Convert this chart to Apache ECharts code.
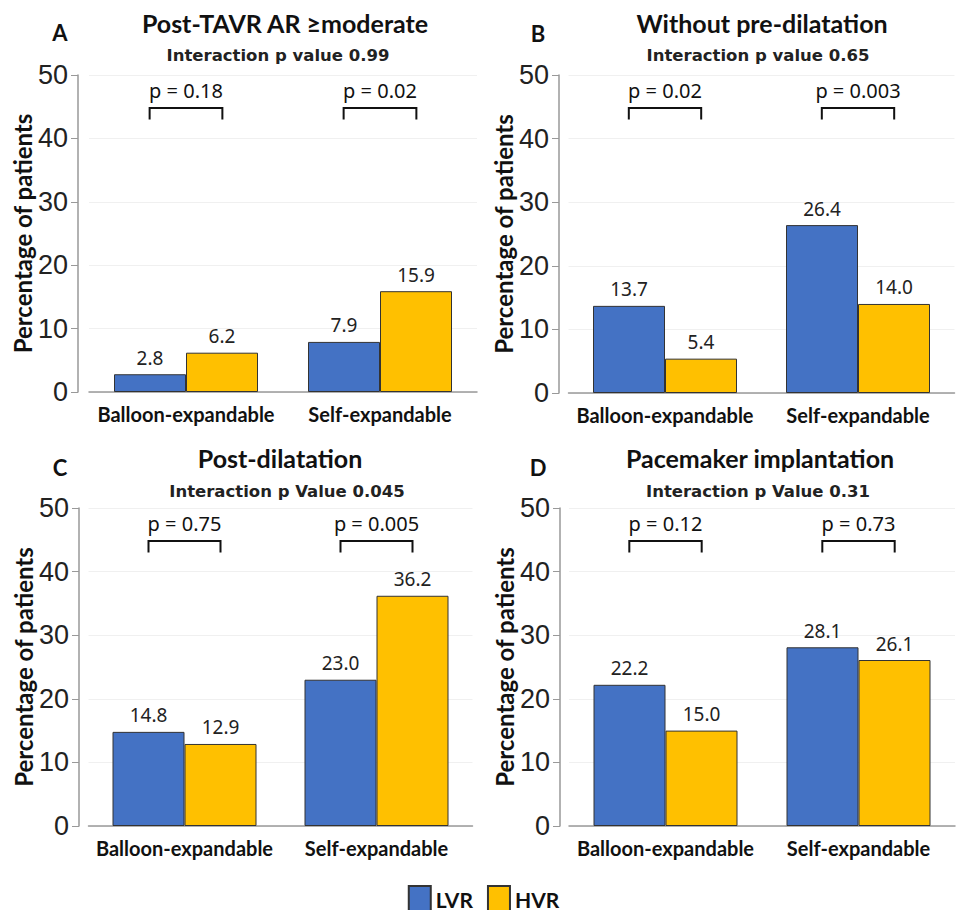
<!DOCTYPE html>
<html>
<head>
<meta charset="utf-8">
<script src="https://cdn.jsdelivr.net/npm/echarts@6.0.0/dist/echarts.min.js"></script>
<style>
  html, body { margin: 0; padding: 0; background: #fff; }
  #main { width: 967px; height: 910px; }
</style>
</head>
<body>
<div id="main"></div>
<script>
// data
const categories = ['Balloon-expandable', 'Self-expandable'];
const panelLetters = ['A', 'B', 'C', 'D'];
const panelTitles = ['Post-TAVR AR ≥moderate', 'Without pre-dilatation', 'Post-dilatation', 'Pacemaker implantation'];
const interactionTexts = ['Interaction p value 0.99', 'Interaction p value 0.65', 'Interaction p Value 0.045', 'Interaction p Value 0.31'];

const lvrA = [2.8, 7.9];
const hvrA = [6.2, 15.9];
const lvrB = [13.7, 26.4];
const hvrB = [5.4, 14.0];
const lvrC = [14.8, 23.0];
const hvrC = [12.9, 36.2];
const lvrD = [22.2, 28.1];
const hvrD = [15.0, 26.1];

const pA = ['0.18', '0.02'];
const pB = ['0.02', '0.003'];
const pC = ['0.75', '0.005'];
const pD = ['0.12', '0.73'];

const yMin = 0, yMax = 50, yStep = 10;

const lvrAll = [lvrA, lvrB, lvrC, lvrD];
const hvrAll = [hvrA, hvrB, hvrC, hvrD];
const pAll = [pA, pB, pC, pD];

const BLUE = '#4472C4', GOLD = '#FFC000';

// layout of the four panels
const grids = [
  { left: 89, width: 388, top: 75, height: 317 },
  { left: 568.5, width: 386, top: 75, height: 318 },
  { left: 88.5, width: 384, top: 508, height: 318 },
  { left: 569, width: 386, top: 508, height: 318 }
];
const yOffsets = [11, 9.5, 9.5, 9];
const titlePos = [[285, 23, 60, 32, 278, 55], [762, 23, 538, 33, 758, 55],
                  [280, 458, 60, 467, 287, 491], [760, 458, 538, 467, 758, 491]];

function bracketItem(pTexts) {
  return function (params, api) {
    const i = api.value(0);
    const top = api.coord([i, 44.8]);
    const leg = api.coord([i, 43]);
    const txt = api.coord([i, 47.6]);
    const half = api.size([1, 0])[0] * 0.1875;
    return {
      type: 'group',
      children: [
        {
          type: 'polyline',
          shape: { points: [[top[0] - half, leg[1]], [top[0] - half, top[1]], [top[0] + half, top[1]], [top[0] + half, leg[1]]] },
          style: { stroke: '#111', lineWidth: 2, fill: null }
        },
        {
          type: 'text', x: txt[0], y: txt[1],
          style: { text: 'p = ' + pTexts[params.dataIndex], textAlign: 'center', textVerticalAlign: 'middle',
                   font: '20px "Noto Sans"', fill: '#111' }
        }
      ]
    };
  };
}

const xAxes = [], yAxes = [], series = [], graphics = [];
grids.forEach((g, k) => {
  xAxes.push({
    type: 'category', gridIndex: k, data: categories,
    axisLine: { lineStyle: { color: '#999', width: 1.5 } },
    axisTick: { show: false },
    axisLabel: { interval: 0, fontFamily: 'Lato', fontWeight: 'bold', fontSize: 20, color: '#111', margin: 12 }
  });
  yAxes.push({
    type: 'value', gridIndex: k, min: yMin, max: yMax, interval: yStep, offset: yOffsets[k],
    name: 'Percentage of patients', nameLocation: 'middle', nameGap: 35,
    nameTextStyle: { fontFamily: 'Lato', fontWeight: 'bold', fontSize: 24, color: '#111' },
    axisLine: { show: true, lineStyle: { color: '#999', width: 1.5 } },
    axisTick: { show: true, length: 7, lineStyle: { color: '#999' } },
    axisLabel: { fontFamily: 'Liberation Sans', fontSize: 27, color: '#222', margin: 10 },
    splitLine: { lineStyle: { color: '#f0f0f0' } }
  });
  const labelCfg = {
    show: true, position: 'top', distance: 7,
    fontFamily: 'Noto Sans', fontSize: 19, color: '#222',
    formatter: p => p.value.toFixed(1)
  };
  series.push({
    name: 'LVR', type: 'bar', xAxisIndex: k, yAxisIndex: k, data: lvrAll[k],
    barWidth: 72, barGap: 0,
    itemStyle: { color: BLUE, borderColor: '#333', borderWidth: 1 },
    label: labelCfg
  });
  series.push({
    name: 'HVR', type: 'bar', xAxisIndex: k, yAxisIndex: k, data: hvrAll[k],
    barWidth: 72, barGap: 0,
    itemStyle: { color: GOLD, borderColor: '#333', borderWidth: 1 },
    label: labelCfg
  });
  series.push({
    name: 'p' + k, type: 'custom', xAxisIndex: k, yAxisIndex: k,
    data: categories.map((c, i) => [i, 44.8]),
    renderItem: bracketItem(pAll[k]), z: 5, silent: true
  });
  const t = titlePos[k];
  graphics.push({ type: 'text', x: t[0], y: t[1], style: { text: panelTitles[k], textAlign: 'center', textVerticalAlign: 'middle', font: 'bold 25px Lato', fill: '#111' } });
  graphics.push({ type: 'text', x: t[2], y: t[3], style: { text: panelLetters[k], textAlign: 'center', textVerticalAlign: 'middle', font: 'bold 22px Lato', fill: '#111' } });
  graphics.push({ type: 'text', x: t[4], y: t[5], style: { text: interactionTexts[k], textAlign: 'center', textVerticalAlign: 'middle', font: 'bold 16.5px "DejaVu Sans"', fill: '#222' } });
});

const chart = echarts.init(document.getElementById('main'), null, { renderer: 'svg' });
chart.setOption({
  animation: false,
  backgroundColor: '#fff',
  grid: grids,
  xAxis: xAxes,
  yAxis: yAxes,
  legend: {
    data: ['LVR', 'HVR'], left: 'center', top: 880,
    itemWidth: 22, itemHeight: 26, itemGap: 14, icon: 'rect',
    textStyle: { fontFamily: 'Lato', fontWeight: 'bold', fontSize: 21, color: '#111' }
  },
  series: series,
  graphic: graphics
});
window.addEventListener('resize', chart.resize);
</script>
</body>
</html>
